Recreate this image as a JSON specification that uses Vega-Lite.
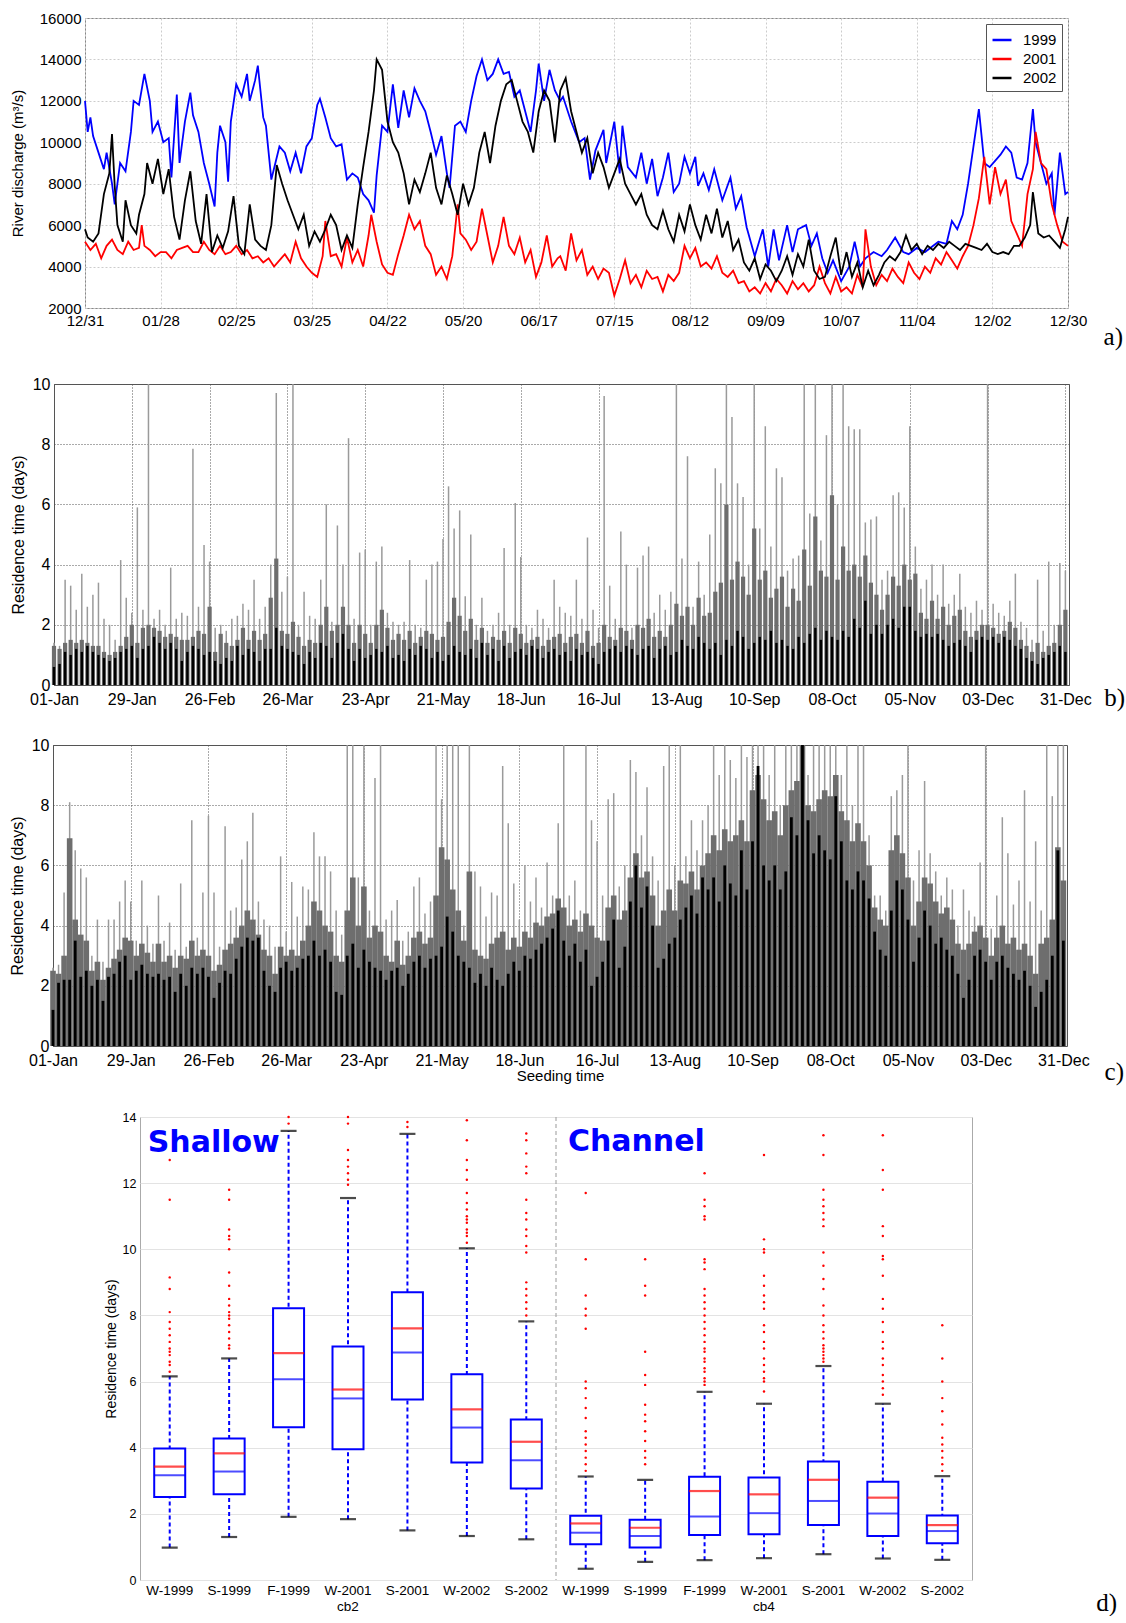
{
"$schema": "https://vega.github.io/schema/vega-lite/v6.json",
"background": "white",
"padding": {"left": 0, "top": 10, "right": 0, "bottom": 0},
"spacing": 24,
"resolve": {"scale": {"color": "independent"}, "legend": {"color": "independent"}},
"datasets": {
"discharge": [
{"s":"1999","d":0,"q":12000},{"s":"1999","d":1,"q":10500},{"s":"1999","d":2,"q":11200},{"s":"1999","d":3,"q":10300},{"s":"1999","d":5,"q":9500},{"s":"1999","d":7,"q":8700},{"s":"1999","d":8,"q":9500},{"s":"1999","d":10,"q":8000},{"s":"1999","d":11,"q":7000},{"s":"1999","d":13,"q":9000},{"s":"1999","d":15,"q":8600},{"s":"1999","d":17,"q":10500},{"s":"1999","d":18,"q":12000},{"s":"1999","d":20,"q":11800},{"s":"1999","d":22,"q":13300},{"s":"1999","d":24,"q":12000},{"s":"1999","d":25,"q":10500},{"s":"1999","d":27,"q":11000},{"s":"1999","d":29,"q":10000},{"s":"1999","d":31,"q":10200},{"s":"1999","d":32,"q":8300},{"s":"1999","d":34,"q":12300},{"s":"1999","d":35,"q":9000},{"s":"1999","d":37,"q":11000},{"s":"1999","d":39,"q":12400},{"s":"1999","d":40,"q":11300},{"s":"1999","d":42,"q":10500},{"s":"1999","d":44,"q":9000},{"s":"1999","d":46,"q":8000},{"s":"1999","d":48,"q":6900},{"s":"1999","d":49,"q":9500},{"s":"1999","d":50,"q":10800},{"s":"1999","d":52,"q":10000},{"s":"1999","d":53,"q":8100},{"s":"1999","d":54,"q":11000},{"s":"1999","d":56,"q":12800},{"s":"1999","d":58,"q":12200},{"s":"1999","d":60,"q":13300},{"s":"1999","d":61,"q":12000},{"s":"1999","d":63,"q":13000},{"s":"1999","d":64,"q":13700},{"s":"1999","d":66,"q":11200},{"s":"1999","d":67,"q":10800},{"s":"1999","d":69,"q":8200},{"s":"1999","d":72,"q":9800},{"s":"1999","d":74,"q":9500},{"s":"1999","d":76,"q":8600},{"s":"1999","d":78,"q":9500},{"s":"1999","d":80,"q":8500},{"s":"1999","d":82,"q":9800},{"s":"1999","d":84,"q":10200},{"s":"1999","d":86,"q":11800},{"s":"1999","d":87,"q":12100},{"s":"1999","d":89,"q":11200},{"s":"1999","d":91,"q":10200},{"s":"1999","d":93,"q":9800},{"s":"1999","d":95,"q":9900},{"s":"1999","d":97,"q":8200},{"s":"1999","d":99,"q":8500},{"s":"1999","d":101,"q":8300},{"s":"1999","d":103,"q":7500},{"s":"1999","d":105,"q":7200},{"s":"1999","d":107,"q":6600},{"s":"1999","d":108,"q":8400},{"s":"1999","d":110,"q":10800},{"s":"1999","d":112,"q":10500},{"s":"1999","d":114,"q":12800},{"s":"1999","d":116,"q":10700},{"s":"1999","d":118,"q":12500},{"s":"1999","d":120,"q":11200},{"s":"1999","d":122,"q":12600},{"s":"1999","d":124,"q":12000},{"s":"1999","d":126,"q":11500},{"s":"1999","d":128,"q":10500},{"s":"1999","d":130,"q":9400},{"s":"1999","d":132,"q":10300},{"s":"1999","d":134,"q":8500},{"s":"1999","d":135,"q":7800},{"s":"1999","d":137,"q":10800},{"s":"1999","d":139,"q":11000},{"s":"1999","d":141,"q":10500},{"s":"1999","d":143,"q":12000},{"s":"1999","d":145,"q":13200},{"s":"1999","d":147,"q":14000},{"s":"1999","d":149,"q":13000},{"s":"1999","d":151,"q":13300},{"s":"1999","d":153,"q":14000},{"s":"1999","d":155,"q":13300},{"s":"1999","d":157,"q":13400},{"s":"1999","d":159,"q":12200},{"s":"1999","d":161,"q":12500},{"s":"1999","d":163,"q":11500},{"s":"1999","d":165,"q":10500},{"s":"1999","d":167,"q":12500},{"s":"1999","d":168,"q":13800},{"s":"1999","d":170,"q":12000},{"s":"1999","d":172,"q":13500},{"s":"1999","d":174,"q":12500},{"s":"1999","d":176,"q":12000},{"s":"1999","d":177,"q":12200},{"s":"1999","d":180,"q":11000},{"s":"1999","d":183,"q":10000},{"s":"1999","d":185,"q":10200},{"s":"1999","d":187,"q":8200},{"s":"1999","d":189,"q":9600},{"s":"1999","d":192,"q":10600},{"s":"1999","d":193,"q":9000},{"s":"1999","d":196,"q":11000},{"s":"1999","d":198,"q":8500},{"s":"1999","d":199,"q":10800},{"s":"1999","d":201,"q":8800},{"s":"1999","d":204,"q":8300},{"s":"1999","d":206,"q":9500},{"s":"1999","d":208,"q":8000},{"s":"1999","d":210,"q":9200},{"s":"1999","d":212,"q":7400},{"s":"1999","d":214,"q":8300},{"s":"1999","d":216,"q":9500},{"s":"1999","d":218,"q":7600},{"s":"1999","d":220,"q":8000},{"s":"1999","d":222,"q":9300},{"s":"1999","d":224,"q":8500},{"s":"1999","d":226,"q":9300},{"s":"1999","d":227,"q":7900},{"s":"1999","d":229,"q":8500},{"s":"1999","d":231,"q":7700},{"s":"1999","d":233,"q":8700},{"s":"1999","d":236,"q":7200},{"s":"1999","d":239,"q":8300},{"s":"1999","d":241,"q":6800},{"s":"1999","d":243,"q":7400},{"s":"1999","d":245,"q":5900},{"s":"1999","d":248,"q":4500},{"s":"1999","d":251,"q":5800},{"s":"1999","d":253,"q":4000},{"s":"1999","d":255,"q":5800},{"s":"1999","d":257,"q":4300},{"s":"1999","d":260,"q":6000},{"s":"1999","d":262,"q":4700},{"s":"1999","d":264,"q":5800},{"s":"1999","d":267,"q":6000},{"s":"1999","d":269,"q":5000},{"s":"1999","d":271,"q":5600},{"s":"1999","d":273,"q":4400},{"s":"1999","d":275,"q":3700},{"s":"1999","d":277,"q":4300},{"s":"1999","d":280,"q":3300},{"s":"1999","d":283,"q":4000},{"s":"1999","d":285,"q":5200},{"s":"1999","d":287,"q":4000},{"s":"1999","d":289,"q":4400},{"s":"1999","d":292,"q":4700},{"s":"1999","d":295,"q":4500},{"s":"1999","d":297,"q":4800},{"s":"1999","d":300,"q":5400},{"s":"1999","d":303,"q":4700},{"s":"1999","d":305,"q":4600},{"s":"1999","d":308,"q":4900},{"s":"1999","d":311,"q":4700},{"s":"1999","d":313,"q":4900},{"s":"1999","d":316,"q":5200},{"s":"1999","d":319,"q":5100},{"s":"1999","d":321,"q":6200},{"s":"1999","d":323,"q":5800},{"s":"1999","d":325,"q":6500},{"s":"1999","d":327,"q":8000},{"s":"1999","d":329,"q":9800},{"s":"1999","d":331,"q":11600},{"s":"1999","d":333,"q":9000},{"s":"1999","d":335,"q":8800},{"s":"1999","d":337,"q":9100},{"s":"1999","d":339,"q":9400},{"s":"1999","d":341,"q":9800},{"s":"1999","d":343,"q":9500},{"s":"1999","d":345,"q":8300},{"s":"1999","d":347,"q":8200},{"s":"1999","d":349,"q":9000},{"s":"1999","d":351,"q":11600},{"s":"1999","d":352,"q":10000},{"s":"1999","d":354,"q":9000},{"s":"1999","d":356,"q":8000},{"s":"1999","d":358,"q":8500},{"s":"1999","d":359,"q":6500},{"s":"1999","d":361,"q":9500},{"s":"1999","d":363,"q":7500},{"s":"1999","d":364,"q":7600},
{"s":"2001","d":0,"q":5200},{"s":"2001","d":2,"q":4800},{"s":"2001","d":4,"q":5100},{"s":"2001","d":6,"q":4400},{"s":"2001","d":8,"q":5000},{"s":"2001","d":10,"q":5300},{"s":"2001","d":12,"q":4800},{"s":"2001","d":14,"q":4600},{"s":"2001","d":16,"q":5200},{"s":"2001","d":18,"q":4800},{"s":"2001","d":20,"q":4900},{"s":"2001","d":21,"q":6000},{"s":"2001","d":22,"q":5000},{"s":"2001","d":24,"q":4800},{"s":"2001","d":26,"q":4500},{"s":"2001","d":28,"q":4700},{"s":"2001","d":30,"q":4700},{"s":"2001","d":32,"q":4400},{"s":"2001","d":34,"q":4800},{"s":"2001","d":36,"q":4900},{"s":"2001","d":38,"q":5000},{"s":"2001","d":40,"q":4700},{"s":"2001","d":42,"q":4700},{"s":"2001","d":44,"q":5200},{"s":"2001","d":46,"q":4800},{"s":"2001","d":48,"q":4600},{"s":"2001","d":50,"q":5000},{"s":"2001","d":52,"q":4600},{"s":"2001","d":54,"q":4700},{"s":"2001","d":56,"q":5000},{"s":"2001","d":58,"q":4600},{"s":"2001","d":60,"q":4800},{"s":"2001","d":62,"q":4400},{"s":"2001","d":64,"q":4500},{"s":"2001","d":66,"q":4200},{"s":"2001","d":68,"q":4400},{"s":"2001","d":70,"q":4000},{"s":"2001","d":72,"q":4300},{"s":"2001","d":74,"q":4600},{"s":"2001","d":76,"q":4200},{"s":"2001","d":78,"q":5200},{"s":"2001","d":80,"q":4400},{"s":"2001","d":82,"q":4000},{"s":"2001","d":84,"q":3700},{"s":"2001","d":86,"q":3500},{"s":"2001","d":88,"q":4500},{"s":"2001","d":89,"q":6200},{"s":"2001","d":91,"q":4500},{"s":"2001","d":93,"q":4600},{"s":"2001","d":95,"q":4000},{"s":"2001","d":97,"q":5400},{"s":"2001","d":99,"q":4200},{"s":"2001","d":101,"q":4800},{"s":"2001","d":103,"q":4000},{"s":"2001","d":105,"q":5500},{"s":"2001","d":106,"q":6500},{"s":"2001","d":108,"q":5200},{"s":"2001","d":110,"q":4100},{"s":"2001","d":112,"q":3700},{"s":"2001","d":114,"q":3600},{"s":"2001","d":116,"q":4600},{"s":"2001","d":118,"q":5500},{"s":"2001","d":120,"q":6500},{"s":"2001","d":122,"q":5800},{"s":"2001","d":124,"q":6200},{"s":"2001","d":126,"q":5000},{"s":"2001","d":128,"q":4600},{"s":"2001","d":130,"q":3600},{"s":"2001","d":132,"q":4000},{"s":"2001","d":134,"q":3400},{"s":"2001","d":136,"q":4500},{"s":"2001","d":138,"q":7000},{"s":"2001","d":139,"q":5600},{"s":"2001","d":141,"q":5300},{"s":"2001","d":143,"q":4800},{"s":"2001","d":145,"q":5200},{"s":"2001","d":147,"q":6800},{"s":"2001","d":149,"q":5500},{"s":"2001","d":151,"q":4200},{"s":"2001","d":153,"q":5000},{"s":"2001","d":155,"q":6400},{"s":"2001","d":157,"q":5000},{"s":"2001","d":159,"q":4600},{"s":"2001","d":161,"q":5400},{"s":"2001","d":163,"q":4200},{"s":"2001","d":165,"q":4800},{"s":"2001","d":167,"q":3500},{"s":"2001","d":169,"q":4200},{"s":"2001","d":171,"q":5500},{"s":"2001","d":173,"q":4000},{"s":"2001","d":175,"q":4400},{"s":"2001","d":176,"q":4500},{"s":"2001","d":178,"q":3800},{"s":"2001","d":180,"q":5600},{"s":"2001","d":182,"q":4300},{"s":"2001","d":184,"q":4800},{"s":"2001","d":186,"q":3600},{"s":"2001","d":188,"q":4000},{"s":"2001","d":190,"q":3400},{"s":"2001","d":192,"q":3900},{"s":"2001","d":194,"q":3700},{"s":"2001","d":196,"q":2600},{"s":"2001","d":198,"q":3400},{"s":"2001","d":200,"q":4300},{"s":"2001","d":202,"q":3200},{"s":"2001","d":204,"q":3600},{"s":"2001","d":206,"q":3000},{"s":"2001","d":208,"q":3800},{"s":"2001","d":210,"q":3400},{"s":"2001","d":212,"q":3500},{"s":"2001","d":214,"q":2800},{"s":"2001","d":216,"q":3600},{"s":"2001","d":218,"q":3300},{"s":"2001","d":220,"q":3700},{"s":"2001","d":222,"q":5000},{"s":"2001","d":224,"q":4400},{"s":"2001","d":226,"q":4900},{"s":"2001","d":228,"q":4000},{"s":"2001","d":230,"q":4200},{"s":"2001","d":232,"q":3900},{"s":"2001","d":234,"q":4500},{"s":"2001","d":236,"q":3700},{"s":"2001","d":238,"q":3500},{"s":"2001","d":240,"q":3800},{"s":"2001","d":242,"q":3200},{"s":"2001","d":244,"q":3300},{"s":"2001","d":246,"q":2800},{"s":"2001","d":248,"q":3000},{"s":"2001","d":250,"q":2700},{"s":"2001","d":252,"q":3200},{"s":"2001","d":254,"q":2800},{"s":"2001","d":256,"q":3400},{"s":"2001","d":258,"q":3100},{"s":"2001","d":260,"q":2700},{"s":"2001","d":262,"q":3300},{"s":"2001","d":264,"q":2900},{"s":"2001","d":266,"q":3200},{"s":"2001","d":268,"q":2800},{"s":"2001","d":270,"q":3100},{"s":"2001","d":272,"q":4000},{"s":"2001","d":274,"q":3200},{"s":"2001","d":276,"q":2700},{"s":"2001","d":278,"q":3500},{"s":"2001","d":280,"q":2800},{"s":"2001","d":282,"q":3000},{"s":"2001","d":284,"q":2700},{"s":"2001","d":286,"q":3600},{"s":"2001","d":288,"q":3000},{"s":"2001","d":289,"q":5800},{"s":"2001","d":291,"q":4000},{"s":"2001","d":293,"q":3100},{"s":"2001","d":295,"q":3600},{"s":"2001","d":297,"q":3300},{"s":"2001","d":299,"q":3900},{"s":"2001","d":301,"q":3500},{"s":"2001","d":303,"q":3200},{"s":"2001","d":305,"q":4200},{"s":"2001","d":307,"q":3700},{"s":"2001","d":309,"q":3400},{"s":"2001","d":311,"q":4000},{"s":"2001","d":313,"q":3700},{"s":"2001","d":315,"q":4400},{"s":"2001","d":317,"q":4100},{"s":"2001","d":319,"q":4700},{"s":"2001","d":321,"q":4300},{"s":"2001","d":323,"q":3900},{"s":"2001","d":325,"q":4500},{"s":"2001","d":327,"q":5000},{"s":"2001","d":329,"q":6000},{"s":"2001","d":331,"q":7300},{"s":"2001","d":333,"q":9300},{"s":"2001","d":335,"q":7000},{"s":"2001","d":337,"q":8800},{"s":"2001","d":339,"q":7500},{"s":"2001","d":341,"q":8200},{"s":"2001","d":343,"q":6200},{"s":"2001","d":345,"q":5600},{"s":"2001","d":347,"q":5000},{"s":"2001","d":349,"q":7500},{"s":"2001","d":351,"q":8700},{"s":"2001","d":352,"q":10500},{"s":"2001","d":354,"q":9000},{"s":"2001","d":356,"q":8700},{"s":"2001","d":358,"q":7000},{"s":"2001","d":360,"q":6000},{"s":"2001","d":362,"q":5200},{"s":"2001","d":364,"q":5000},
{"s":"2002","d":0,"q":5800},{"s":"2002","d":1,"q":5400},{"s":"2002","d":3,"q":5200},{"s":"2002","d":5,"q":5600},{"s":"2002","d":7,"q":7500},{"s":"2002","d":9,"q":8500},{"s":"2002","d":10,"q":10400},{"s":"2002","d":11,"q":7900},{"s":"2002","d":12,"q":6000},{"s":"2002","d":14,"q":5200},{"s":"2002","d":15,"q":7200},{"s":"2002","d":17,"q":6000},{"s":"2002","d":19,"q":5600},{"s":"2002","d":20,"q":6500},{"s":"2002","d":22,"q":7500},{"s":"2002","d":23,"q":9000},{"s":"2002","d":25,"q":8000},{"s":"2002","d":27,"q":9200},{"s":"2002","d":29,"q":7500},{"s":"2002","d":31,"q":8700},{"s":"2002","d":33,"q":6400},{"s":"2002","d":35,"q":5300},{"s":"2002","d":37,"q":7200},{"s":"2002","d":39,"q":8600},{"s":"2002","d":41,"q":6200},{"s":"2002","d":43,"q":5100},{"s":"2002","d":45,"q":7500},{"s":"2002","d":47,"q":4700},{"s":"2002","d":49,"q":5500},{"s":"2002","d":51,"q":4900},{"s":"2002","d":53,"q":5700},{"s":"2002","d":55,"q":7400},{"s":"2002","d":57,"q":5000},{"s":"2002","d":59,"q":4600},{"s":"2002","d":61,"q":7000},{"s":"2002","d":63,"q":5300},{"s":"2002","d":65,"q":5000},{"s":"2002","d":67,"q":4800},{"s":"2002","d":69,"q":6000},{"s":"2002","d":71,"q":8900},{"s":"2002","d":73,"q":8000},{"s":"2002","d":75,"q":7200},{"s":"2002","d":77,"q":6500},{"s":"2002","d":79,"q":5800},{"s":"2002","d":81,"q":6500},{"s":"2002","d":83,"q":5000},{"s":"2002","d":85,"q":5700},{"s":"2002","d":87,"q":5200},{"s":"2002","d":89,"q":5800},{"s":"2002","d":91,"q":6500},{"s":"2002","d":93,"q":6000},{"s":"2002","d":95,"q":4800},{"s":"2002","d":97,"q":5500},{"s":"2002","d":99,"q":4900},{"s":"2002","d":101,"q":7000},{"s":"2002","d":103,"q":8800},{"s":"2002","d":105,"q":10500},{"s":"2002","d":107,"q":12500},{"s":"2002","d":108,"q":14000},{"s":"2002","d":110,"q":13500},{"s":"2002","d":112,"q":11000},{"s":"2002","d":114,"q":10000},{"s":"2002","d":116,"q":9500},{"s":"2002","d":118,"q":8500},{"s":"2002","d":120,"q":7000},{"s":"2002","d":122,"q":8200},{"s":"2002","d":124,"q":7600},{"s":"2002","d":126,"q":8500},{"s":"2002","d":128,"q":9500},{"s":"2002","d":130,"q":7800},{"s":"2002","d":132,"q":7000},{"s":"2002","d":134,"q":8400},{"s":"2002","d":136,"q":7500},{"s":"2002","d":138,"q":6500},{"s":"2002","d":140,"q":8000},{"s":"2002","d":142,"q":7000},{"s":"2002","d":144,"q":7800},{"s":"2002","d":146,"q":9500},{"s":"2002","d":148,"q":10500},{"s":"2002","d":150,"q":9000},{"s":"2002","d":152,"q":10800},{"s":"2002","d":154,"q":12000},{"s":"2002","d":156,"q":12800},{"s":"2002","d":158,"q":13000},{"s":"2002","d":160,"q":12000},{"s":"2002","d":162,"q":11000},{"s":"2002","d":164,"q":10500},{"s":"2002","d":166,"q":9500},{"s":"2002","d":168,"q":11500},{"s":"2002","d":170,"q":12500},{"s":"2002","d":172,"q":12000},{"s":"2002","d":174,"q":10000},{"s":"2002","d":176,"q":12500},{"s":"2002","d":178,"q":13100},{"s":"2002","d":180,"q":11500},{"s":"2002","d":182,"q":10500},{"s":"2002","d":184,"q":9500},{"s":"2002","d":186,"q":10200},{"s":"2002","d":188,"q":8500},{"s":"2002","d":190,"q":9500},{"s":"2002","d":192,"q":8800},{"s":"2002","d":194,"q":7800},{"s":"2002","d":196,"q":8500},{"s":"2002","d":198,"q":9200},{"s":"2002","d":200,"q":8000},{"s":"2002","d":202,"q":7500},{"s":"2002","d":204,"q":7000},{"s":"2002","d":206,"q":7500},{"s":"2002","d":208,"q":6500},{"s":"2002","d":210,"q":6000},{"s":"2002","d":212,"q":5800},{"s":"2002","d":214,"q":6700},{"s":"2002","d":216,"q":5800},{"s":"2002","d":218,"q":5200},{"s":"2002","d":220,"q":6500},{"s":"2002","d":222,"q":5700},{"s":"2002","d":224,"q":7000},{"s":"2002","d":226,"q":6000},{"s":"2002","d":228,"q":5300},{"s":"2002","d":230,"q":6500},{"s":"2002","d":232,"q":5600},{"s":"2002","d":234,"q":6800},{"s":"2002","d":236,"q":5400},{"s":"2002","d":238,"q":6200},{"s":"2002","d":240,"q":4800},{"s":"2002","d":242,"q":5300},{"s":"2002","d":244,"q":4200},{"s":"2002","d":246,"q":3800},{"s":"2002","d":248,"q":4400},{"s":"2002","d":250,"q":3400},{"s":"2002","d":252,"q":4100},{"s":"2002","d":254,"q":3800},{"s":"2002","d":256,"q":3300},{"s":"2002","d":258,"q":3800},{"s":"2002","d":260,"q":4500},{"s":"2002","d":262,"q":3600},{"s":"2002","d":264,"q":4600},{"s":"2002","d":266,"q":4000},{"s":"2002","d":268,"q":5300},{"s":"2002","d":270,"q":3800},{"s":"2002","d":272,"q":3400},{"s":"2002","d":274,"q":3500},{"s":"2002","d":276,"q":4500},{"s":"2002","d":278,"q":5400},{"s":"2002","d":280,"q":3600},{"s":"2002","d":282,"q":4700},{"s":"2002","d":284,"q":3500},{"s":"2002","d":286,"q":4200},{"s":"2002","d":288,"q":3000},{"s":"2002","d":290,"q":3800},{"s":"2002","d":292,"q":3100},{"s":"2002","d":294,"q":3600},{"s":"2002","d":296,"q":4200},{"s":"2002","d":298,"q":4500},{"s":"2002","d":300,"q":4300},{"s":"2002","d":302,"q":4700},{"s":"2002","d":304,"q":5500},{"s":"2002","d":306,"q":4800},{"s":"2002","d":308,"q":5100},{"s":"2002","d":310,"q":4600},{"s":"2002","d":312,"q":5000},{"s":"2002","d":314,"q":4800},{"s":"2002","d":316,"q":5100},{"s":"2002","d":318,"q":4900},{"s":"2002","d":320,"q":5200},{"s":"2002","d":322,"q":5000},{"s":"2002","d":324,"q":4800},{"s":"2002","d":326,"q":5100},{"s":"2002","d":328,"q":5000},{"s":"2002","d":330,"q":4900},{"s":"2002","d":332,"q":4800},{"s":"2002","d":334,"q":5100},{"s":"2002","d":336,"q":4700},{"s":"2002","d":338,"q":4600},{"s":"2002","d":340,"q":4700},{"s":"2002","d":342,"q":4600},{"s":"2002","d":344,"q":5000},{"s":"2002","d":346,"q":5000},{"s":"2002","d":348,"q":5400},{"s":"2002","d":350,"q":6000},{"s":"2002","d":351,"q":7600},{"s":"2002","d":353,"q":5600},{"s":"2002","d":355,"q":5400},{"s":"2002","d":357,"q":5500},{"s":"2002","d":359,"q":5200},{"s":"2002","d":361,"q":4900},{"s":"2002","d":363,"q":5800},{"s":"2002","d":364,"q":6400}
],
"chan": [
{"d":0,"hi":1.4,"mid":1.3,"lo":0.6},{"d":2,"hi":1.3,"mid":1.2,"lo":0.7},{"d":4,"hi":3.5,"mid":1.4,"lo":1.1},{"d":6,"hi":3.3,"mid":1.5,"lo":1.0},{"d":8,"hi":2.5,"mid":1.4,"lo":1.2},{"d":10,"hi":3.7,"mid":1.5,"lo":1.1},{"d":12,"hi":2.6,"mid":1.4,"lo":1.3},{"d":14,"hi":3.0,"mid":1.3,"lo":1.1},{"d":16,"hi":3.4,"mid":1.3,"lo":1.0},{"d":18,"hi":2.2,"mid":1.1,"lo":0.9},{"d":20,"hi":2.0,"mid":1.0,"lo":0.8},{"d":22,"hi":1.5,"mid":1.1,"lo":0.9},{"d":24,"hi":4.15,"mid":1.3,"lo":1.1},{"d":26,"hi":2.9,"mid":1.6,"lo":1.2},{"d":28,"hi":2.4,"mid":2.0,"lo":1.3},{"d":30,"hi":5.9,"mid":1.4,"lo":0.9},{"d":32,"hi":2.5,"mid":1.9,"lo":1.2},{"d":34,"hi":10,"mid":2.0,"lo":1.3},{"d":36,"hi":2.2,"mid":1.9,"lo":1.6},{"d":38,"hi":2.5,"mid":1.8,"lo":1.4},{"d":40,"hi":2.0,"mid":1.6,"lo":1.2},{"d":42,"hi":3.9,"mid":1.7,"lo":1.4},{"d":44,"hi":2.2,"mid":1.6,"lo":1.2},{"d":46,"hi":2.4,"mid":1.5,"lo":0.8},{"d":48,"hi":2.3,"mid":1.5,"lo":1.1},{"d":50,"hi":7.85,"mid":1.6,"lo":1.3},{"d":52,"hi":2.6,"mid":1.8,"lo":1.2},{"d":54,"hi":4.65,"mid":1.7,"lo":1.0},{"d":56,"hi":4.1,"mid":2.6,"lo":1.1},{"d":58,"hi":1.9,"mid":1.1,"lo":0.8},{"d":60,"hi":2.0,"mid":1.7,"lo":0.7},{"d":62,"hi":1.8,"mid":1.4,"lo":0.9},{"d":64,"hi":2.2,"mid":1.3,"lo":0.8},{"d":66,"hi":2.3,"mid":1.5,"lo":1.3},{"d":68,"hi":2.7,"mid":1.9,"lo":1.0},{"d":70,"hi":2.5,"mid":1.5,"lo":1.2},{"d":72,"hi":3.5,"mid":1.8,"lo":1.1},{"d":74,"hi":2.2,"mid":1.5,"lo":0.8},{"d":76,"hi":2.6,"mid":1.7,"lo":1.2},{"d":78,"hi":4.0,"mid":2.9,"lo":1.2},{"d":80,"hi":9.7,"mid":4.2,"lo":1.9},{"d":82,"hi":3.1,"mid":1.8,"lo":1.3},{"d":84,"hi":3.6,"mid":1.7,"lo":1.2},{"d":86,"hi":10,"mid":2.1,"lo":1.1},{"d":88,"hi":2.0,"mid":1.6,"lo":1.0},{"d":90,"hi":3.1,"mid":1.3,"lo":0.7},{"d":92,"hi":2.3,"mid":1.5,"lo":1.1},{"d":94,"hi":2.2,"mid":1.4,"lo":0.9},{"d":96,"hi":3.5,"mid":2.0,"lo":1.4},{"d":98,"hi":6.0,"mid":2.6,"lo":1.3},{"d":100,"hi":2.1,"mid":1.8,"lo":0.9},{"d":102,"hi":5.3,"mid":2.0,"lo":1.4},{"d":104,"hi":4.0,"mid":2.6,"lo":1.7},{"d":106,"hi":8.2,"mid":2.0,"lo":1.2},{"d":108,"hi":2.2,"mid":1.4,"lo":0.8},{"d":110,"hi":4.4,"mid":2.0,"lo":1.2},{"d":112,"hi":4.5,"mid":1.7,"lo":0.9},{"d":114,"hi":2.0,"mid":1.4,"lo":1.0},{"d":116,"hi":4.1,"mid":2.0,"lo":1.2},{"d":118,"hi":4.6,"mid":2.5,"lo":1.1},{"d":120,"hi":2.4,"mid":1.9,"lo":1.3},{"d":122,"hi":2.1,"mid":1.5,"lo":0.9},{"d":124,"hi":2.0,"mid":1.7,"lo":1.0},{"d":126,"hi":2.1,"mid":1.5,"lo":0.8},{"d":128,"hi":4.15,"mid":1.8,"lo":1.2},{"d":130,"hi":2.0,"mid":1.4,"lo":1.0},{"d":132,"hi":1.9,"mid":1.6,"lo":1.3},{"d":134,"hi":3.5,"mid":1.8,"lo":1.2},{"d":136,"hi":4.0,"mid":1.7,"lo":0.9},{"d":138,"hi":4.1,"mid":1.5,"lo":1.1},{"d":140,"hi":4.85,"mid":1.6,"lo":0.8},{"d":142,"hi":6.6,"mid":2.1,"lo":1.0},{"d":144,"hi":5.2,"mid":2.9,"lo":1.3},{"d":146,"hi":5.8,"mid":2.3,"lo":1.1},{"d":148,"hi":2.95,"mid":1.8,"lo":1.0},{"d":150,"hi":5.0,"mid":2.2,"lo":1.2},{"d":152,"hi":2.0,"mid":1.5,"lo":0.9},{"d":154,"hi":2.9,"mid":1.9,"lo":1.4},{"d":156,"hi":1.8,"mid":1.4,"lo":1.0},{"d":158,"hi":2.0,"mid":1.6,"lo":1.2},{"d":160,"hi":2.4,"mid":1.5,"lo":0.8},{"d":162,"hi":4.55,"mid":1.8,"lo":1.3},{"d":164,"hi":2.0,"mid":1.4,"lo":0.9},{"d":166,"hi":6.05,"mid":1.9,"lo":1.1},{"d":168,"hi":4.25,"mid":1.7,"lo":1.2},{"d":170,"hi":2.0,"mid":1.4,"lo":1.0},{"d":172,"hi":1.9,"mid":1.5,"lo":1.3},{"d":174,"hi":2.5,"mid":1.6,"lo":1.2},{"d":176,"hi":2.2,"mid":1.3,"lo":0.9},{"d":178,"hi":1.9,"mid":1.5,"lo":1.1},{"d":180,"hi":3.5,"mid":1.6,"lo":1.2},{"d":182,"hi":2.6,"mid":1.7,"lo":1.0},{"d":184,"hi":2.4,"mid":1.4,"lo":1.1},{"d":186,"hi":2.3,"mid":1.6,"lo":0.8},{"d":188,"hi":3.5,"mid":1.7,"lo":1.2},{"d":190,"hi":2.2,"mid":1.4,"lo":1.0},{"d":192,"hi":4.9,"mid":1.8,"lo":1.1},{"d":194,"hi":2.5,"mid":1.3,"lo":0.9},{"d":196,"hi":1.9,"mid":1.4,"lo":0.7},{"d":198,"hi":9.6,"mid":2.0,"lo":1.1},{"d":200,"hi":3.3,"mid":1.6,"lo":1.2},{"d":202,"hi":2.2,"mid":1.5,"lo":1.3},{"d":204,"hi":5.1,"mid":1.9,"lo":1.1},{"d":206,"hi":4.0,"mid":1.8,"lo":1.3},{"d":208,"hi":1.9,"mid":1.5,"lo":1.2},{"d":210,"hi":3.9,"mid":2.0,"lo":1.0},{"d":212,"hi":4.3,"mid":1.9,"lo":1.2},{"d":214,"hi":4.6,"mid":2.2,"lo":1.3},{"d":216,"hi":2.4,"mid":1.6,"lo":0.9},{"d":218,"hi":3.0,"mid":1.8,"lo":1.2},{"d":220,"hi":2.5,"mid":1.6,"lo":1.3},{"d":222,"hi":3.1,"mid":2.0,"lo":1.0},{"d":224,"hi":10,"mid":2.7,"lo":1.1},{"d":226,"hi":4.2,"mid":2.3,"lo":1.5},{"d":228,"hi":7.6,"mid":2.6,"lo":1.3},{"d":230,"hi":2.6,"mid":2.0,"lo":1.2},{"d":232,"hi":4.1,"mid":2.9,"lo":1.6},{"d":234,"hi":3.0,"mid":2.3,"lo":1.4},{"d":236,"hi":5.0,"mid":2.4,"lo":1.2},{"d":238,"hi":7.2,"mid":3.1,"lo":1.4},{"d":240,"hi":6.7,"mid":3.4,"lo":1.0},{"d":242,"hi":10,"mid":6.0,"lo":1.5},{"d":244,"hi":8.9,"mid":3.5,"lo":1.3},{"d":246,"hi":6.7,"mid":4.1,"lo":1.8},{"d":248,"hi":6.25,"mid":3.6,"lo":1.6},{"d":250,"hi":4.0,"mid":3.0,"lo":1.2},{"d":252,"hi":10,"mid":5.2,"lo":1.4},{"d":254,"hi":5.2,"mid":3.5,"lo":1.6},{"d":256,"hi":8.6,"mid":3.8,"lo":1.5},{"d":258,"hi":4.6,"mid":2.9,"lo":1.8},{"d":260,"hi":7.2,"mid":3.2,"lo":1.4},{"d":262,"hi":6.9,"mid":3.6,"lo":1.5},{"d":264,"hi":3.8,"mid":2.6,"lo":1.3},{"d":266,"hi":4.2,"mid":3.2,"lo":1.2},{"d":268,"hi":4.3,"mid":2.8,"lo":1.6},{"d":270,"hi":10,"mid":4.5,"lo":1.4},{"d":272,"hi":5.7,"mid":3.3,"lo":1.7},{"d":274,"hi":10,"mid":5.6,"lo":1.9},{"d":276,"hi":4.8,"mid":3.8,"lo":1.5},{"d":278,"hi":8.3,"mid":3.6,"lo":1.8},{"d":280,"hi":10,"mid":6.3,"lo":1.6},{"d":282,"hi":6.0,"mid":3.5,"lo":1.5},{"d":284,"hi":10,"mid":4.6,"lo":1.8},{"d":286,"hi":8.6,"mid":3.8,"lo":1.6},{"d":288,"hi":8.5,"mid":4.0,"lo":2.2},{"d":290,"hi":8.5,"mid":3.6,"lo":1.9},{"d":292,"hi":5.4,"mid":4.3,"lo":2.8},{"d":294,"hi":5.5,"mid":3.4,"lo":1.7},{"d":296,"hi":5.6,"mid":3.0,"lo":2.0},{"d":298,"hi":3.5,"mid":2.5,"lo":1.7},{"d":300,"hi":3.8,"mid":3.0,"lo":2.0},{"d":302,"hi":6.3,"mid":3.6,"lo":2.2},{"d":304,"hi":6.4,"mid":3.3,"lo":1.9},{"d":306,"hi":5.9,"mid":4.0,"lo":2.6},{"d":308,"hi":8.6,"mid":3.5,"lo":2.6},{"d":310,"hi":4.6,"mid":3.7,"lo":1.8},{"d":312,"hi":3.2,"mid":2.4,"lo":1.6},{"d":314,"hi":3.5,"mid":2.2,"lo":1.7},{"d":316,"hi":4.0,"mid":2.8,"lo":1.6},{"d":318,"hi":3.0,"mid":2.2,"lo":1.7},{"d":320,"hi":4.0,"mid":2.6,"lo":1.5},{"d":322,"hi":2.7,"mid":2.0,"lo":1.3},{"d":324,"hi":3.0,"mid":2.3,"lo":1.4},{"d":326,"hi":3.7,"mid":2.5,"lo":1.5},{"d":328,"hi":2.6,"mid":1.8,"lo":1.3},{"d":330,"hi":2.4,"mid":1.6,"lo":1.1},{"d":332,"hi":2.8,"mid":1.8,"lo":1.5},{"d":334,"hi":2.5,"mid":2.0,"lo":1.6},{"d":336,"hi":10,"mid":2.0,"lo":1.5},{"d":338,"hi":2.7,"mid":1.9,"lo":1.6},{"d":340,"hi":2.4,"mid":1.7,"lo":1.4},{"d":342,"hi":2.3,"mid":1.8,"lo":1.6},{"d":344,"hi":2.8,"mid":2.1,"lo":1.5},{"d":346,"hi":3.7,"mid":1.9,"lo":1.3},{"d":348,"hi":2.1,"mid":1.5,"lo":1.2},{"d":350,"hi":1.9,"mid":1.3,"lo":0.9},{"d":352,"hi":1.5,"mid":1.1,"lo":0.8},{"d":354,"hi":3.5,"mid":1.4,"lo":0.7},{"d":356,"hi":1.8,"mid":1.1,"lo":0.9},{"d":358,"hi":4.1,"mid":1.3,"lo":1.0},{"d":360,"hi":2.0,"mid":1.4,"lo":1.1},{"d":362,"hi":4.05,"mid":2.0,"lo":1.3},{"d":364,"hi":3.8,"mid":2.5,"lo":1.1}
],
"shal": [
{"d":0,"hi":2.6,"mid":2.5,"lo":1.2},{"d":2,"hi":2.7,"mid":2.4,"lo":2.1},{"d":4,"hi":5.1,"mid":3.0,"lo":2.2},{"d":6,"hi":8.1,"mid":6.9,"lo":2.2},{"d":8,"hi":6.5,"mid":4.2,"lo":3.5},{"d":10,"hi":5.9,"mid":3.7,"lo":2.3},{"d":12,"hi":5.6,"mid":3.5,"lo":2.5},{"d":14,"hi":3.0,"mid":2.5,"lo":2.0},{"d":16,"hi":4.2,"mid":2.8,"lo":2.2},{"d":18,"hi":2.8,"mid":2.2,"lo":1.5},{"d":20,"hi":4.2,"mid":2.6,"lo":2.3},{"d":22,"hi":4.2,"mid":2.9,"lo":2.4},{"d":24,"hi":4.8,"mid":3.2,"lo":2.8},{"d":26,"hi":5.5,"mid":3.6,"lo":3.0},{"d":28,"hi":4.8,"mid":3.5,"lo":2.2},{"d":30,"hi":3.5,"mid":3.0,"lo":2.5},{"d":32,"hi":5.5,"mid":3.4,"lo":2.7},{"d":34,"hi":4.0,"mid":3.1,"lo":2.4},{"d":36,"hi":3.4,"mid":2.8,"lo":2.3},{"d":38,"hi":5.0,"mid":3.4,"lo":2.4},{"d":40,"hi":3.5,"mid":2.8,"lo":2.2},{"d":42,"hi":4.1,"mid":3.0,"lo":2.3},{"d":44,"hi":3.2,"mid":2.6,"lo":1.8},{"d":46,"hi":5.4,"mid":3.0,"lo":2.4},{"d":48,"hi":3.3,"mid":2.9,"lo":2.0},{"d":50,"hi":7.5,"mid":3.5,"lo":2.6},{"d":52,"hi":3.6,"mid":3.0,"lo":2.4},{"d":54,"hi":5.1,"mid":3.2,"lo":2.6},{"d":56,"hi":7.65,"mid":3.0,"lo":2.3},{"d":58,"hi":5.1,"mid":2.5,"lo":1.6},{"d":60,"hi":3.3,"mid":2.7,"lo":2.1},{"d":62,"hi":7.3,"mid":3.2,"lo":2.5},{"d":64,"hi":4.5,"mid":3.4,"lo":2.4},{"d":66,"hi":4.6,"mid":3.6,"lo":2.9},{"d":68,"hi":6.2,"mid":4.0,"lo":3.3},{"d":70,"hi":6.8,"mid":4.5,"lo":3.6},{"d":72,"hi":7.75,"mid":4.2,"lo":3.5},{"d":74,"hi":4.8,"mid":3.7,"lo":3.6},{"d":76,"hi":4.2,"mid":3.2,"lo":2.5},{"d":78,"hi":4.0,"mid":3.0,"lo":2.0},{"d":80,"hi":3.3,"mid":2.4,"lo":1.8},{"d":82,"hi":6.3,"mid":3.3,"lo":2.6},{"d":84,"hi":3.8,"mid":3.0,"lo":2.8},{"d":86,"hi":5.45,"mid":3.2,"lo":2.5},{"d":88,"hi":4.3,"mid":3.0,"lo":2.6},{"d":90,"hi":5.3,"mid":3.5,"lo":2.9},{"d":92,"hi":5.2,"mid":4.0,"lo":3.0},{"d":94,"hi":7.1,"mid":4.8,"lo":3.5},{"d":96,"hi":6.3,"mid":4.5,"lo":3.0},{"d":98,"hi":6.3,"mid":4.0,"lo":3.2},{"d":100,"hi":5.8,"mid":3.8,"lo":2.8},{"d":102,"hi":4.5,"mid":3.0,"lo":1.8},{"d":104,"hi":3.7,"mid":2.8,"lo":1.7},{"d":106,"hi":10,"mid":4.5,"lo":3.0},{"d":108,"hi":10,"mid":5.6,"lo":3.4},{"d":110,"hi":5.6,"mid":4.0,"lo":2.6},{"d":112,"hi":10,"mid":5.3,"lo":3.2},{"d":114,"hi":4.5,"mid":3.6,"lo":2.8},{"d":116,"hi":8.9,"mid":4.0,"lo":2.6},{"d":118,"hi":10,"mid":3.8,"lo":2.5},{"d":120,"hi":4.2,"mid":3.0,"lo":2.2},{"d":122,"hi":4.5,"mid":2.8,"lo":2.5},{"d":124,"hi":4.85,"mid":3.5,"lo":2.6},{"d":126,"hi":3.5,"mid":2.7,"lo":2.0},{"d":128,"hi":3.8,"mid":3.0,"lo":2.4},{"d":130,"hi":5.3,"mid":3.6,"lo":2.8},{"d":132,"hi":5.6,"mid":3.8,"lo":3.0},{"d":134,"hi":4.4,"mid":3.4,"lo":2.6},{"d":136,"hi":4.8,"mid":3.6,"lo":2.9},{"d":138,"hi":10,"mid":5.0,"lo":3.0},{"d":140,"hi":8.2,"mid":6.6,"lo":3.3},{"d":142,"hi":10,"mid":6.2,"lo":4.3},{"d":144,"hi":10,"mid":5.2,"lo":3.8},{"d":146,"hi":10,"mid":4.5,"lo":3.0},{"d":148,"hi":4.0,"mid":3.5,"lo":2.8},{"d":150,"hi":10,"mid":5.8,"lo":2.6},{"d":152,"hi":5.8,"mid":3.2,"lo":2.1},{"d":154,"hi":5.3,"mid":3.0,"lo":2.4},{"d":156,"hi":4.3,"mid":2.9,"lo":2.0},{"d":158,"hi":5.1,"mid":3.4,"lo":2.6},{"d":160,"hi":5.0,"mid":3.6,"lo":2.2},{"d":162,"hi":9.3,"mid":3.8,"lo":2.0},{"d":164,"hi":7.4,"mid":3.2,"lo":2.4},{"d":166,"hi":5.4,"mid":3.6,"lo":2.8},{"d":168,"hi":4.2,"mid":3.3,"lo":2.5},{"d":170,"hi":6.0,"mid":3.8,"lo":3.0},{"d":172,"hi":4.8,"mid":3.6,"lo":2.9},{"d":174,"hi":5.6,"mid":4.1,"lo":3.2},{"d":176,"hi":4.6,"mid":4.0,"lo":3.4},{"d":178,"hi":6.1,"mid":4.3,"lo":3.6},{"d":180,"hi":5.0,"mid":4.4,"lo":3.9},{"d":182,"hi":7.4,"mid":4.9,"lo":4.5},{"d":184,"hi":10,"mid":4.6,"lo":3.5},{"d":186,"hi":5.0,"mid":4.0,"lo":3.0},{"d":188,"hi":5.5,"mid":4.2,"lo":3.4},{"d":190,"hi":4.5,"mid":3.8,"lo":2.8},{"d":192,"hi":10,"mid":4.4,"lo":3.2},{"d":194,"hi":7.5,"mid":4.0,"lo":2.0},{"d":196,"hi":6.8,"mid":3.6,"lo":2.3},{"d":198,"hi":5.0,"mid":3.5,"lo":2.8},{"d":200,"hi":8.2,"mid":4.6,"lo":3.5},{"d":202,"hi":8.4,"mid":5.0,"lo":4.2},{"d":204,"hi":5.3,"mid":4.2,"lo":2.6},{"d":206,"hi":6.0,"mid":4.5,"lo":3.3},{"d":208,"hi":9.5,"mid":5.6,"lo":4.8},{"d":210,"hi":9.1,"mid":6.4,"lo":6.0},{"d":212,"hi":7.0,"mid":5.6,"lo":4.6},{"d":214,"hi":8.6,"mid":5.8,"lo":5.3},{"d":216,"hi":6.3,"mid":5.0,"lo":4.0},{"d":218,"hi":5.5,"mid":4.0,"lo":2.6},{"d":220,"hi":9.3,"mid":4.5,"lo":2.9},{"d":222,"hi":10,"mid":5.2,"lo":3.4},{"d":224,"hi":6.0,"mid":4.5,"lo":3.6},{"d":226,"hi":10,"mid":5.5,"lo":4.2},{"d":228,"hi":6.3,"mid":5.4,"lo":4.6},{"d":230,"hi":7.5,"mid":5.8,"lo":5.0},{"d":232,"hi":6.5,"mid":5.2,"lo":4.4},{"d":234,"hi":7.5,"mid":6.0,"lo":5.6},{"d":236,"hi":8.0,"mid":6.4,"lo":5.2},{"d":238,"hi":10,"mid":7.0,"lo":5.6},{"d":240,"hi":9.0,"mid":6.5,"lo":4.8},{"d":242,"hi":10,"mid":7.2,"lo":6.0},{"d":244,"hi":9.5,"mid":6.8,"lo":5.4},{"d":246,"hi":8.9,"mid":7.0,"lo":5.0},{"d":248,"hi":10,"mid":7.5,"lo":6.5},{"d":250,"hi":9.6,"mid":6.8,"lo":5.2},{"d":252,"hi":10,"mid":8.5,"lo":6.8},{"d":254,"hi":10,"mid":9.0,"lo":9.3},{"d":256,"hi":10,"mid":8.2,"lo":6.0},{"d":258,"hi":9.0,"mid":7.5,"lo":5.5},{"d":260,"hi":10,"mid":7.8,"lo":6.0},{"d":262,"hi":8.0,"mid":7.0,"lo":5.2},{"d":264,"hi":10,"mid":8.0,"lo":5.8},{"d":266,"hi":10,"mid":8.5,"lo":7.6},{"d":268,"hi":10,"mid":8.8,"lo":7.0},{"d":270,"hi":10,"mid":10,"lo":10},{"d":272,"hi":9.0,"mid":8.0,"lo":7.5},{"d":274,"hi":10,"mid":7.8,"lo":6.4},{"d":276,"hi":10,"mid":8.2,"lo":7.0},{"d":278,"hi":10,"mid":8.5,"lo":6.5},{"d":280,"hi":10,"mid":8.3,"lo":6.2},{"d":282,"hi":10,"mid":9.0,"lo":8.3},{"d":284,"hi":9.0,"mid":7.8,"lo":6.8},{"d":286,"hi":10,"mid":7.5,"lo":5.5},{"d":288,"hi":8.0,"mid":6.8,"lo":5.2},{"d":290,"hi":10,"mid":7.4,"lo":5.8},{"d":292,"hi":10,"mid":6.8,"lo":5.5},{"d":294,"hi":7.0,"mid":6.0,"lo":4.9},{"d":296,"hi":5.0,"mid":4.6,"lo":3.8},{"d":298,"hi":5.0,"mid":4.2,"lo":3.2},{"d":300,"hi":4.5,"mid":4.0,"lo":3.0},{"d":302,"hi":8.3,"mid":6.5,"lo":4.5},{"d":304,"hi":8.5,"mid":7.0,"lo":5.5},{"d":306,"hi":9.0,"mid":6.4,"lo":5.2},{"d":308,"hi":10,"mid":5.6,"lo":4.2},{"d":310,"hi":5.5,"mid":4.0,"lo":2.8},{"d":312,"hi":6.5,"mid":4.8,"lo":3.6},{"d":314,"hi":8.8,"mid":5.6,"lo":4.5},{"d":316,"hi":6.4,"mid":5.4,"lo":4.0},{"d":318,"hi":5.8,"mid":4.8,"lo":3.4},{"d":320,"hi":5.0,"mid":4.4,"lo":3.6},{"d":322,"hi":5.6,"mid":4.6,"lo":3.2},{"d":324,"hi":5.2,"mid":4.2,"lo":3.0},{"d":326,"hi":4.0,"mid":3.4,"lo":2.4},{"d":328,"hi":5.2,"mid":3.2,"lo":1.6},{"d":330,"hi":4.5,"mid":3.4,"lo":2.2},{"d":332,"hi":4.3,"mid":3.8,"lo":3.0},{"d":334,"hi":6.1,"mid":4.0,"lo":3.2},{"d":336,"hi":10,"mid":3.6,"lo":2.8},{"d":338,"hi":3.9,"mid":3.0,"lo":2.2},{"d":340,"hi":5.0,"mid":3.6,"lo":2.8},{"d":342,"hi":7.6,"mid":4.0,"lo":3.0},{"d":344,"hi":6.4,"mid":3.4,"lo":2.6},{"d":346,"hi":4.7,"mid":3.6,"lo":2.4},{"d":348,"hi":5.5,"mid":3.2,"lo":2.2},{"d":350,"hi":8.5,"mid":3.4,"lo":2.5},{"d":352,"hi":4.8,"mid":3.0,"lo":2.0},{"d":354,"hi":6.8,"mid":2.4,"lo":1.3},{"d":356,"hi":4.5,"mid":3.4,"lo":1.8},{"d":358,"hi":10,"mid":3.6,"lo":2.2},{"d":360,"hi":8.3,"mid":4.2,"lo":3.0},{"d":362,"hi":10,"mid":6.6,"lo":6.5},{"d":364,"hi":10,"mid":5.5,"lo":3.5}
],
"boxes": [
{"cat":"W-1999|cb2","low":0.98,"q1":2.51,"med":3.17,"mean":3.43,"q3":3.98,"high":6.16},
{"cat":"S-1999|cb2","low":1.30,"q1":2.59,"med":3.28,"mean":3.83,"q3":4.28,"high":6.70},
{"cat":"F-1999|cb2","low":1.91,"q1":4.62,"med":6.07,"mean":6.86,"q3":8.22,"high":13.58},
{"cat":"W-2001|cb2","low":1.84,"q1":3.95,"med":5.49,"mean":5.76,"q3":7.06,"high":11.55},
{"cat":"S-2001|cb2","low":1.50,"q1":5.46,"med":6.88,"mean":7.61,"q3":8.70,"high":13.49},
{"cat":"W-2002|cb2","low":1.33,"q1":3.55,"med":4.61,"mean":5.16,"q3":6.22,"high":10.03},
{"cat":"S-2002|cb2","low":1.23,"q1":2.77,"med":3.62,"mean":4.18,"q3":4.85,"high":7.82},
{"cat":"W-1999|cb4","low":0.34,"q1":1.08,"med":1.43,"mean":1.71,"q3":1.94,"high":3.13},
{"cat":"S-1999|cb4","low":0.55,"q1":0.98,"med":1.33,"mean":1.58,"q3":1.82,"high":3.03},
{"cat":"F-1999|cb4","low":0.60,"q1":1.36,"med":1.92,"mean":2.69,"q3":3.12,"high":5.69},
{"cat":"W-2001|cb4","low":0.66,"q1":1.38,"med":2.02,"mean":2.59,"q3":3.10,"high":5.33},
{"cat":"S-2001|cb4","low":0.78,"q1":1.66,"med":2.39,"mean":3.03,"q3":3.58,"high":6.47},
{"cat":"W-2002|cb4","low":0.65,"q1":1.33,"med":2.01,"mean":2.49,"q3":2.97,"high":5.33},
{"cat":"S-2002|cb4","low":0.61,"q1":1.11,"med":1.48,"mean":1.66,"q3":1.95,"high":3.14}
],
"outl": [
{"cat":"W-1999|cb2","v":6.3},{"cat":"W-1999|cb2","v":6.5},{"cat":"W-1999|cb2","v":6.6},{"cat":"W-1999|cb2","v":6.8},{"cat":"W-1999|cb2","v":6.9},{"cat":"W-1999|cb2","v":7.0},{"cat":"W-1999|cb2","v":7.2},{"cat":"W-1999|cb2","v":7.4},{"cat":"W-1999|cb2","v":7.6},{"cat":"W-1999|cb2","v":7.8},{"cat":"W-1999|cb2","v":8.1},{"cat":"W-1999|cb2","v":8.8},{"cat":"W-1999|cb2","v":9.15},{"cat":"W-1999|cb2","v":11.5},{"cat":"W-1999|cb2","v":12.7},
{"cat":"S-1999|cb2","v":7.0},{"cat":"S-1999|cb2","v":7.1},{"cat":"S-1999|cb2","v":7.3},{"cat":"S-1999|cb2","v":7.5},{"cat":"S-1999|cb2","v":7.7},{"cat":"S-1999|cb2","v":7.9},{"cat":"S-1999|cb2","v":8.0},{"cat":"S-1999|cb2","v":8.1},{"cat":"S-1999|cb2","v":8.3},{"cat":"S-1999|cb2","v":8.5},{"cat":"S-1999|cb2","v":8.9},{"cat":"S-1999|cb2","v":9.3},{"cat":"S-1999|cb2","v":10.0},{"cat":"S-1999|cb2","v":10.3},{"cat":"S-1999|cb2","v":10.4},{"cat":"S-1999|cb2","v":10.6},{"cat":"S-1999|cb2","v":11.5},{"cat":"S-1999|cb2","v":11.8},
{"cat":"F-1999|cb2","v":13.8},{"cat":"F-1999|cb2","v":14.0},
{"cat":"W-2001|cb2","v":11.95},{"cat":"W-2001|cb2","v":12.1},{"cat":"W-2001|cb2","v":12.3},{"cat":"W-2001|cb2","v":12.5},{"cat":"W-2001|cb2","v":12.7},{"cat":"W-2001|cb2","v":13.0},{"cat":"W-2001|cb2","v":13.8},{"cat":"W-2001|cb2","v":14.0},
{"cat":"S-2001|cb2","v":13.7},{"cat":"S-2001|cb2","v":13.85},
{"cat":"W-2002|cb2","v":10.2},{"cat":"W-2002|cb2","v":10.4},{"cat":"W-2002|cb2","v":10.5},{"cat":"W-2002|cb2","v":10.6},{"cat":"W-2002|cb2","v":10.8},{"cat":"W-2002|cb2","v":10.9},{"cat":"W-2002|cb2","v":11.0},{"cat":"W-2002|cb2","v":11.2},{"cat":"W-2002|cb2","v":11.4},{"cat":"W-2002|cb2","v":11.7},{"cat":"W-2002|cb2","v":12.1},{"cat":"W-2002|cb2","v":12.4},{"cat":"W-2002|cb2","v":12.7},{"cat":"W-2002|cb2","v":13.3},{"cat":"W-2002|cb2","v":13.9},
{"cat":"S-2002|cb2","v":8.0},{"cat":"S-2002|cb2","v":8.2},{"cat":"S-2002|cb2","v":8.4},{"cat":"S-2002|cb2","v":8.6},{"cat":"S-2002|cb2","v":8.8},{"cat":"S-2002|cb2","v":9.0},{"cat":"S-2002|cb2","v":9.9},{"cat":"S-2002|cb2","v":10.1},{"cat":"S-2002|cb2","v":10.4},{"cat":"S-2002|cb2","v":10.6},{"cat":"S-2002|cb2","v":10.9},{"cat":"S-2002|cb2","v":11.1},{"cat":"S-2002|cb2","v":11.5},{"cat":"S-2002|cb2","v":12.3},{"cat":"S-2002|cb2","v":12.5},{"cat":"S-2002|cb2","v":12.9},{"cat":"S-2002|cb2","v":13.3},{"cat":"S-2002|cb2","v":13.5},
{"cat":"W-1999|cb4","v":3.3},{"cat":"W-1999|cb4","v":3.5},{"cat":"W-1999|cb4","v":3.7},{"cat":"W-1999|cb4","v":3.9},{"cat":"W-1999|cb4","v":4.1},{"cat":"W-1999|cb4","v":4.3},{"cat":"W-1999|cb4","v":4.5},{"cat":"W-1999|cb4","v":4.9},{"cat":"W-1999|cb4","v":5.2},{"cat":"W-1999|cb4","v":5.5},{"cat":"W-1999|cb4","v":5.8},{"cat":"W-1999|cb4","v":6.0},{"cat":"W-1999|cb4","v":7.6},{"cat":"W-1999|cb4","v":8.0},{"cat":"W-1999|cb4","v":8.2},{"cat":"W-1999|cb4","v":8.6},{"cat":"W-1999|cb4","v":9.7},{"cat":"W-1999|cb4","v":11.7},
{"cat":"S-1999|cb4","v":3.5},{"cat":"S-1999|cb4","v":3.7},{"cat":"S-1999|cb4","v":3.9},{"cat":"S-1999|cb4","v":4.2},{"cat":"S-1999|cb4","v":4.5},{"cat":"S-1999|cb4","v":4.8},{"cat":"S-1999|cb4","v":5.0},{"cat":"S-1999|cb4","v":5.3},{"cat":"S-1999|cb4","v":5.9},{"cat":"S-1999|cb4","v":6.2},{"cat":"S-1999|cb4","v":6.9},{"cat":"S-1999|cb4","v":8.6},{"cat":"S-1999|cb4","v":8.9},{"cat":"S-1999|cb4","v":9.7},
{"cat":"F-1999|cb4","v":5.9},{"cat":"F-1999|cb4","v":6.0},{"cat":"F-1999|cb4","v":6.1},{"cat":"F-1999|cb4","v":6.3},{"cat":"F-1999|cb4","v":6.4},{"cat":"F-1999|cb4","v":6.6},{"cat":"F-1999|cb4","v":6.7},{"cat":"F-1999|cb4","v":6.9},{"cat":"F-1999|cb4","v":7.0},{"cat":"F-1999|cb4","v":7.2},{"cat":"F-1999|cb4","v":7.4},{"cat":"F-1999|cb4","v":7.6},{"cat":"F-1999|cb4","v":7.8},{"cat":"F-1999|cb4","v":8.0},{"cat":"F-1999|cb4","v":8.2},{"cat":"F-1999|cb4","v":8.4},{"cat":"F-1999|cb4","v":8.6},{"cat":"F-1999|cb4","v":8.8},{"cat":"F-1999|cb4","v":9.4},{"cat":"F-1999|cb4","v":9.6},{"cat":"F-1999|cb4","v":9.7},{"cat":"F-1999|cb4","v":10.9},{"cat":"F-1999|cb4","v":11.0},{"cat":"F-1999|cb4","v":11.3},{"cat":"F-1999|cb4","v":11.5},{"cat":"F-1999|cb4","v":12.3},
{"cat":"W-2001|cb4","v":5.7},{"cat":"W-2001|cb4","v":6.0},{"cat":"W-2001|cb4","v":6.1},{"cat":"W-2001|cb4","v":6.3},{"cat":"W-2001|cb4","v":6.5},{"cat":"W-2001|cb4","v":6.7},{"cat":"W-2001|cb4","v":7.0},{"cat":"W-2001|cb4","v":7.2},{"cat":"W-2001|cb4","v":7.5},{"cat":"W-2001|cb4","v":7.7},{"cat":"W-2001|cb4","v":8.2},{"cat":"W-2001|cb4","v":8.4},{"cat":"W-2001|cb4","v":8.6},{"cat":"W-2001|cb4","v":8.9},{"cat":"W-2001|cb4","v":9.2},{"cat":"W-2001|cb4","v":9.9},{"cat":"W-2001|cb4","v":10.0},{"cat":"W-2001|cb4","v":10.3},{"cat":"W-2001|cb4","v":12.85},
{"cat":"S-2001|cb4","v":6.6},{"cat":"S-2001|cb4","v":6.7},{"cat":"S-2001|cb4","v":6.8},{"cat":"S-2001|cb4","v":6.9},{"cat":"S-2001|cb4","v":7.0},{"cat":"S-2001|cb4","v":7.1},{"cat":"S-2001|cb4","v":7.3},{"cat":"S-2001|cb4","v":7.5},{"cat":"S-2001|cb4","v":7.7},{"cat":"S-2001|cb4","v":8.0},{"cat":"S-2001|cb4","v":8.3},{"cat":"S-2001|cb4","v":8.8},{"cat":"S-2001|cb4","v":9.1},{"cat":"S-2001|cb4","v":9.5},{"cat":"S-2001|cb4","v":9.9},{"cat":"S-2001|cb4","v":10.7},{"cat":"S-2001|cb4","v":10.9},{"cat":"S-2001|cb4","v":11.1},{"cat":"S-2001|cb4","v":11.3},{"cat":"S-2001|cb4","v":11.5},{"cat":"S-2001|cb4","v":11.8},{"cat":"S-2001|cb4","v":12.85},{"cat":"S-2001|cb4","v":13.45},
{"cat":"W-2002|cb4","v":5.6},{"cat":"W-2002|cb4","v":5.8},{"cat":"W-2002|cb4","v":6.0},{"cat":"W-2002|cb4","v":6.2},{"cat":"W-2002|cb4","v":6.5},{"cat":"W-2002|cb4","v":6.7},{"cat":"W-2002|cb4","v":7.0},{"cat":"W-2002|cb4","v":7.2},{"cat":"W-2002|cb4","v":7.5},{"cat":"W-2002|cb4","v":7.8},{"cat":"W-2002|cb4","v":8.2},{"cat":"W-2002|cb4","v":8.5},{"cat":"W-2002|cb4","v":9.2},{"cat":"W-2002|cb4","v":9.7},{"cat":"W-2002|cb4","v":9.8},{"cat":"W-2002|cb4","v":10.4},{"cat":"W-2002|cb4","v":10.7},{"cat":"W-2002|cb4","v":11.8},{"cat":"W-2002|cb4","v":12.4},{"cat":"W-2002|cb4","v":13.45},
{"cat":"S-2002|cb4","v":3.3},{"cat":"S-2002|cb4","v":3.5},{"cat":"S-2002|cb4","v":3.7},{"cat":"S-2002|cb4","v":3.9},{"cat":"S-2002|cb4","v":4.1},{"cat":"S-2002|cb4","v":4.3},{"cat":"S-2002|cb4","v":4.7},{"cat":"S-2002|cb4","v":5.1},{"cat":"S-2002|cb4","v":5.5},{"cat":"S-2002|cb4","v":6.0},{"cat":"S-2002|cb4","v":6.7},{"cat":"S-2002|cb4","v":7.7}
]
},
"vconcat": [
{
"resolve": {"scale": {"color": "independent"}, "legend": {"color": "independent"}},
"hconcat": [
{"width": 85, "height": 1, "data": {"values": [{"z": 0}]}, "mark": {"type": "point", "opacity": 0}, "view": {"stroke": null, "fill": "white"}},
{
"width": 983, "height": 290,
"data": {"name": "discharge"},
"title": {"text": "a)", "orient": "bottom", "anchor": "end", "frame": "group", "dx": 55, "offset": -3},
"mark": {"type": "line", "strokeWidth": 1.8},
"encoding": {
"x": {"field": "d", "type": "quantitative", "scale": {"domain": [0, 364], "nice": false, "zero": false},
"axis": {"values": [0,28,56,84,112,140,168,196,224,252,280,308,336,364], "labelExpr": "['12/31','01/28','02/25','03/25','04/22','05/20','06/17','07/15','08/12','09/09','10/07','11/04','12/02','12/30'][round(datum.value/28)]", "title": null, "labelFontSize": 15, "labelPadding": 5, "grid": true, "gridColor": "#cccccc", "gridDash": [2, 2]}},
"y": {"field": "q", "type": "quantitative", "scale": {"domain": [2000, 16000], "nice": false, "zero": false},
"axis": {"values": [2000,4000,6000,8000,10000,12000,14000,16000], "format": "d", "title": "River discharge (m³/s)", "labelFontSize": 15, "titleFontSize": 15, "labelPadding": 4, "titlePadding": 14, "grid": true, "gridColor": "#cccccc", "gridDash": [2, 2]}},
"color": {"field": "s", "type": "nominal", "scale": {"domain": ["1999", "2001", "2002"], "range": ["#0000ff", "#ff0000", "#000000"]},
"legend": {"title": null, "orient": "top-right", "offset": 6, "padding": 5, "strokeColor": "#555555", "fillColor": "white", "symbolType": "stroke", "symbolStrokeWidth": 2.5, "symbolSize": 360, "labelFontSize": 15, "rowPadding": 0, "labelOffset": 10}}
},
"view": {"stroke": "#888888"}
}
],
"spacing": 0, "bounds": "flush"
},
{
"hconcat": [
{"width": 54, "height": 1, "data": {"values": [{"z": 0}]}, "mark": {"type": "point", "opacity": 0}, "view": {"stroke": null, "fill": "white"}},
{
"width": 1015, "height": 301,
"data": {"name": "chan"},
"title": {"text": "b)", "orient": "bottom", "anchor": "end", "frame": "group", "dx": 56, "offset": -21},
"encoding": {
"x": {"field": "d", "type": "quantitative", "scale": {"domain": [0, 365.3], "nice": false, "zero": false},
"axis": {"values": [0,28,56,84,112,140,168,196,224,252,280,308,336,364], "labelExpr": "['01-Jan','29-Jan','26-Feb','26-Mar','23-Apr','21-May','18-Jun','16-Jul','13-Aug','10-Sep','08-Oct','05-Nov','03-Dec','31-Dec'][round(datum.value/28)]", "title": null, "labelFontSize": 16, "labelPadding": 6, "grid": true, "gridColor": "#555555", "gridDash": [1, 2]}}
},
"layer": [
{"mark": {"type": "rule", "color": "#9a9a9a", "strokeWidth": 1.5},
"encoding": {"y": {"field": "hi", "type": "quantitative", "scale": {"domain": [0, 10], "nice": false},
"axis": {"values": [0,2,4,6,8,10], "title": "Residence time (days)", "labelFontSize": 16, "titleFontSize": 16, "labelPadding": 4, "titlePadding": 6, "grid": true, "gridColor": "#555555", "gridDash": [1, 2]}},
"y2": {"datum": 0}}},
{"mark": {"type": "rule", "color": "#6e6e6e", "strokeWidth": 4.2}, "encoding": {"y": {"field": "mid", "type": "quantitative"}, "y2": {"datum": 0}}},
{"mark": {"type": "rule", "color": "#000000", "strokeWidth": 2.4}, "encoding": {"y": {"field": "lo", "type": "quantitative"}, "y2": {"datum": 0}}},
{"data": {"values": [{"t": "1999 - Channel"}]}, "mark": {"type": "text", "font": "DejaVu Sans", "fontWeight": "bold", "fontSize": 32, "color": "#0000ff", "align": "left", "baseline": "middle"},
"encoding": {"x": {"datum": 4.9}, "y": {"datum": 8.84}, "text": {"field": "t"}}}
],
"view": {"stroke": "#555555"}
}
],
"spacing": 0, "bounds": "flush"
},
{
"hconcat": [
{"width": 53, "height": 1, "data": {"values": [{"z": 0}]}, "mark": {"type": "point", "opacity": 0}, "view": {"stroke": null, "fill": "white"}},
{
"width": 1014, "height": 301,
"data": {"name": "shal"},
"title": {"text": "c)", "orient": "bottom", "anchor": "end", "frame": "group", "dx": 57, "offset": -23},
"encoding": {
"x": {"field": "d", "type": "quantitative", "scale": {"domain": [0, 365.3], "nice": false, "zero": false},
"axis": {"values": [0,28,56,84,112,140,168,196,224,252,280,308,336,364], "labelExpr": "['01-Jan','29-Jan','26-Feb','26-Mar','23-Apr','21-May','18-Jun','16-Jul','13-Aug','10-Sep','08-Oct','05-Nov','03-Dec','31-Dec'][round(datum.value/28)]", "title": "Seeding time", "titleFontSize": 15, "titlePadding": 0, "labelFontSize": 16, "labelPadding": 6, "grid": true, "gridColor": "#555555", "gridDash": [1, 2]}}
},
"layer": [
{"mark": {"type": "rule", "color": "#9a9a9a", "strokeWidth": 1.5},
"encoding": {"y": {"field": "hi", "type": "quantitative", "scale": {"domain": [0, 10], "nice": false},
"axis": {"values": [0,2,4,6,8,10], "title": "Residence time (days)", "labelFontSize": 16, "titleFontSize": 16, "labelPadding": 4, "titlePadding": 6, "grid": true, "gridColor": "#555555", "gridDash": [1, 2]}},
"y2": {"datum": 0}}},
{"mark": {"type": "rule", "color": "#6e6e6e", "strokeWidth": 5.6}, "encoding": {"y": {"field": "mid", "type": "quantitative"}, "y2": {"datum": 0}}},
{"mark": {"type": "rule", "color": "#000000", "strokeWidth": 2.8}, "encoding": {"y": {"field": "lo", "type": "quantitative"}, "y2": {"datum": 0}}},
{"data": {"values": [{"t": "1999 - Shallow"}]}, "mark": {"type": "text", "font": "DejaVu Sans", "fontWeight": "bold", "fontSize": 32, "color": "#0000ff", "align": "left", "baseline": "middle"},
"encoding": {"x": {"datum": 5.0}, "y": {"datum": 8.86}, "text": {"field": "t"}}}
],
"view": {"stroke": "#555555"}
}
],
"spacing": 0, "bounds": "flush"
},
{
"hconcat": [
{"width": 140, "height": 1, "data": {"values": [{"z": 0}]}, "mark": {"type": "point", "opacity": 0}, "view": {"stroke": null, "fill": "white"}},
{
"width": 832, "height": 463,
"title": {"text": "d)", "orient": "bottom", "anchor": "end", "frame": "group", "dx": 145, "offset": -22},
"encoding": {
"x": {"field": "cat", "type": "nominal", "scale": {"domain": ["W-1999|cb2","S-1999|cb2","F-1999|cb2","W-2001|cb2","S-2001|cb2","W-2002|cb2","S-2002|cb2","W-1999|cb4","S-1999|cb4","F-1999|cb4","W-2001|cb4","S-2001|cb4","W-2002|cb4","S-2002|cb4"], "paddingInner": 0, "paddingOuter": 0},
"axis": {"title": null, "labelAngle": 0, "labelFontSize": 13.5, "labelPadding": 3, "labelLineHeight": 16, "labelExpr": "split(datum.label,'|')[0] == 'W-2001' ? ['W-2001', split(datum.label,'|')[1]] : split(datum.label,'|')[0]", "grid": false}}
},
"layer": [
{"data": {"name": "boxes"}, "mark": {"type": "rule", "color": "#0000ff", "strokeWidth": 2, "strokeDash": [4, 3]},
"encoding": {"y": {"field": "low", "type": "quantitative", "scale": {"domain": [0, 14], "nice": false},
"axis": {"values": [0,2,4,6,8,10,12,14], "title": "Residence time (days)", "labelFontSize": 12.5, "titleFontSize": 14, "labelPadding": 4, "titlePadding": 4, "grid": true, "gridColor": "#e3e3e3"}},
"y2": {"field": "high"}}},
{"data": {"name": "boxes"}, "mark": {"type": "bar", "fill": "white", "stroke": "#0000ff", "strokeWidth": 2, "width": 31},
"encoding": {"y": {"field": "q1", "type": "quantitative"}, "y2": {"field": "q3"}}},
{"data": {"name": "boxes"}, "mark": {"type": "tick", "color": "#0000ff", "thickness": 2, "size": 31},
"encoding": {"y": {"field": "med", "type": "quantitative"}}},
{"data": {"name": "boxes"}, "mark": {"type": "tick", "color": "#ff0000", "thickness": 2.2, "size": 31},
"encoding": {"y": {"field": "mean", "type": "quantitative"}}},
{"data": {"name": "boxes"}, "mark": {"type": "tick", "color": "#000000", "thickness": 2.2, "size": 16},
"encoding": {"y": {"field": "low", "type": "quantitative"}}},
{"data": {"name": "boxes"}, "mark": {"type": "tick", "color": "#000000", "thickness": 2.2, "size": 16},
"encoding": {"y": {"field": "high", "type": "quantitative"}}},
{"data": {"name": "outl"}, "mark": {"type": "point", "filled": true, "color": "#ff0000", "size": 6, "opacity": 1},
"encoding": {"y": {"field": "v", "type": "quantitative"}}},
{"data": {"values": [{"z": 0}]}, "mark": {"type": "rule", "color": "#999999", "strokeDash": [4, 3], "strokeWidth": 1},
"encoding": {"x": {"datum": "S-2002|cb2", "bandPosition": 1}}},
{"data": {"values": [{"t": "Shallow"}]}, "mark": {"type": "text", "font": "DejaVu Sans", "fontWeight": "bold", "fontSize": 30, "color": "#0000ff", "align": "left", "baseline": "middle"},
"encoding": {"x": {"datum": "W-1999|cb2", "bandPosition": 0.13}, "y": {"datum": 13.2}, "text": {"field": "t"}}},
{"data": {"values": [{"t": "Channel"}]}, "mark": {"type": "text", "font": "DejaVu Sans", "fontWeight": "bold", "fontSize": 30, "color": "#0000ff", "align": "left", "baseline": "middle"},
"encoding": {"x": {"datum": "W-1999|cb4", "bandPosition": 0.2}, "y": {"datum": 13.24}, "text": {"field": "t"}}}
],
"view": {"stroke": "#aaaaaa"}
}
],
"spacing": 0, "bounds": "flush"
}
],
"config": {
"font": "Liberation Sans",
"axis": {"domain": false, "ticks": false, "tickSize": 0, "labelColor": "black", "titleColor": "black", "titleFontWeight": "normal", "labelFont": "Liberation Sans", "titleFont": "Liberation Sans", "labelFlush": false, "labelOverlap": false},
"legend": {"labelFont": "Liberation Sans", "labelColor": "black"},
"title": {"font": "Liberation Serif", "fontWeight": "normal", "fontSize": 25, "color": "black"}
}
}
